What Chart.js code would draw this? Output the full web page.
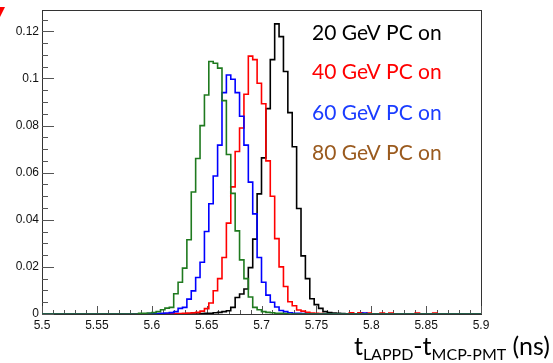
<!DOCTYPE html>
<html>
<head>
<meta charset="utf-8">
<script src="https://cdn.jsdelivr.net/npm/chart.js"></script>
<style>
  html, body { margin: 0; padding: 0; background: #fff; }
  #plot { display: block; }
</style>
</head>
<body>
<canvas id="plot" width="553" height="363"></canvas>
<script>
// Histogram binning: 100 bins of 4 ps between 5.5 and 5.9 ns
const binLow = 5.5;
const binWidth = 0.004;

// Normalised bin contents (bin 0 starts at 5.5 ns)
const pc20 = [
  0, 0, 0, 0, 0, 0, 0, 0, 0, 0,
  0, 0, 0, 0, 0, 0, 0, 0, 0, 0,
  0, 0, 0, 0, 0, 0, 0, 0, 0, 0,
  0, 0, 0, 0, 0, 0, 0.0002, 0.0003, 0.0003, 0.0005,
  0.0007, 0.001, 0.0014, 0.0028, 0.007, 0.0085, 0.0106, 0.0197, 0.0318, 0.051,
  0.0663, 0.0872, 0.108, 0.1232, 0.1178, 0.103, 0.0855, 0.071, 0.0448, 0.0247,
  0.015, 0.0065, 0.004, 0.0024, 0.001, 0.0006, 0.0004, 0.0003, 0.0002, 0,
  0, 0, 0.0004, 0, 0, 0, 0, 0, 0, 0,
  0, 0, 0, 0, 0, 0, 0, 0, 0, 0,
  0, 0, 0, 0, 0, 0, 0, 0, 0, 0
];
const pc40 = [
  0, 0, 0, 0, 0, 0, 0, 0, 0, 0,
  0, 0, 0, 0, 0, 0, 0, 0, 0, 0,
  0, 0, 0, 0, 0, 0, 0, 0, 0, 0,
  0.0002, 0.0002, 0.0003, 0.0004, 0.0005, 0.0007, 0.0012, 0.0023, 0.0047, 0.0099,
  0.015, 0.024, 0.0386, 0.054, 0.069, 0.079, 0.0933, 0.1095, 0.108, 0.098,
  0.0893, 0.065, 0.05, 0.032, 0.02, 0.0117, 0.0052, 0.0035, 0.0017, 0.0012,
  0.0007, 0.0004, 0.0003, 0.0002, 0, 0, 0, 0, 0, 0,
  0.0005, 0, 0.0005, 0, 0.0004, 0, 0, 0.0004, 0, 0.0004,
  0, 0, 0, 0, 0, 0.0004, 0, 0, 0, 0.0004,
  0, 0, 0, 0, 0, 0, 0, 0, 0, 0
];
const pc60 = [
  0, 0, 0, 0, 0, 0, 0, 0, 0, 0,
  0, 0, 0, 0, 0, 0, 0, 0, 0, 0,
  0, 0, 0, 0, 0.0002, 0.0003, 0.0002, 0.0003, 0.0004, 0.0006,
  0.001, 0.0024, 0.0028, 0.0063, 0.0098, 0.0155, 0.022, 0.035, 0.0468, 0.0586,
  0.0717, 0.094, 0.1015, 0.0997, 0.094, 0.084, 0.0717, 0.056, 0.0425, 0.024,
  0.0135, 0.008, 0.005, 0.003, 0.0015, 0.001, 0.0005, 0.0003, 0.0003, 0.0002,
  0, 0, 0, 0, 0, 0, 0, 0, 0, 0,
  0, 0, 0, 0.0004, 0, 0, 0, 0, 0, 0,
  0, 0, 0, 0, 0, 0, 0, 0, 0, 0,
  0, 0, 0, 0, 0, 0, 0, 0, 0, 0
];
const pc80 = [
  0, 0, 0, 0, 0, 0, 0, 0, 0, 0,
  0, 0, 0, 0, 0, 0, 0, 0, 0, 0,
  0, 0, 0.0003, 0.0003, 0.0004, 0.0006, 0.001, 0.0018, 0.0025, 0.0028,
  0.0086, 0.0135, 0.0195, 0.0315, 0.0518, 0.066, 0.08, 0.093, 0.1072, 0.1065,
  0.1044, 0.0906, 0.0677, 0.0512, 0.0353, 0.023, 0.015, 0.0072, 0.0028, 0.0018,
  0.001, 0.0007, 0.0005, 0.0003, 0.0003, 0.0002, 0, 0, 0, 0,
  0, 0, 0, 0, 0, 0, 0, 0, 0, 0,
  0, 0, 0, 0, 0, 0, 0, 0, 0, 0,
  0, 0, 0, 0, 0, 0, 0, 0, 0, 0,
  0, 0, 0, 0, 0, 0, 0, 0, 0, 0
];

const xTicks = [5.5, 5.55, 5.6, 5.65, 5.7, 5.75, 5.8, 5.85, 5.9];
const yTicks = [0, 0.02, 0.04, 0.06, 0.08, 0.1, 0.12];

const legendLabels = ['20 GeV PC on', '40 GeV PC on', '60 GeV PC on', '80 GeV PC on'];
const legendColors = ['#000000', '#ff0000', '#1a3cff', '#9a5a1e'];

// left bin edges + closing edge, drawn as step-before outline
function toSteps(counts) {
    const pts = counts.map((v, i) => ({ x: binLow + i * binWidth, y: v }));
    pts.push({ x: binLow + counts.length * binWidth, y: counts[counts.length - 1] });
    return pts;
}

function histo(counts, color) {
    return {
        data: toSteps(counts),
        borderColor: color,
        borderWidth: 1.6,
        stepped: 'before',
        pointRadius: 0,
        tension: 0,
        fill: false
    };
}

// ROOT style frame with ticks pointing inwards
const framePlugin = {
    id: 'frame',
    beforeDatasetsDraw(chart) {
        const { ctx, chartArea: a, scales } = chart;
        const xs = scales.x, ys = scales.y;
        ctx.save();
        ctx.strokeStyle = '#333';
        ctx.lineWidth = 1;
        ctx.strokeRect(Math.round(a.left) + 0.5, Math.round(a.top) + 0.5,
            Math.round(a.right - a.left), Math.round(a.bottom - a.top));

        ctx.strokeStyle = '#555';
        ctx.beginPath();
        for (let k = 0; k <= 40; k++) {
            const px = Math.round(xs.getPixelForValue(5.5 + k * 0.01)) + 0.5;
            const len = k % 5 === 0 ? 8 : 4;
            ctx.moveTo(px, a.bottom);
            ctx.lineTo(px, a.bottom - len);
        }
        for (let k = 0; k * 0.005 <= ys.max + 1e-9; k++) {
            const py = Math.round(ys.getPixelForValue(k * 0.005)) + 0.5;
            const len = k % 4 === 0 ? 12 : 6;
            ctx.moveTo(a.left, py);
            ctx.lineTo(a.left + len, py);
        }
        ctx.stroke();
        ctx.restore();
    },
    afterDraw(chart) {
        const { ctx } = chart;
        ctx.save();

        // legend text (no markers in the original)
        ctx.font = '21px Lato';
        ctx.textAlign = 'left';
        ctx.textBaseline = 'middle';
        const legendY = [33, 72, 113, 153];
        legendLabels.forEach((txt, i) => {
            ctx.fillStyle = legendColors[i];
            ctx.fillText(txt, 312, legendY[i]);
        });

        // x axis title with subscripts, right aligned at 550
        const parts = [
            { t: 't', f: '25px Lato', dy: 0 },
            { t: 'LAPPD', f: '16px Lato', dy: 5 },
            { t: '-t', f: '25px Lato', dy: 0 },
            { t: 'MCP-PMT', f: '16px Lato', dy: 5 },
            { t: ' (ns)', f: '25px Lato', dy: 0 }
        ];
        let total = 0;
        parts.forEach(p => { ctx.font = p.f; total += ctx.measureText(p.t).width; });
        let x = 550 - total;
        ctx.fillStyle = '#000';
        ctx.textBaseline = 'alphabetic';
        parts.forEach(p => {
            ctx.font = p.f;
            ctx.fillText(p.t, x, 355 + p.dy);
            x += ctx.measureText(p.t).width;
        });

        // clipped red marker at the top left corner
        ctx.fillStyle = '#ff0000';
        ctx.font = '14px DejaVu Sans';
        ctx.textAlign = 'right';
        ctx.textBaseline = 'middle';
        ctx.fillText('\u25BC', 5, 12);
        ctx.restore();
    }
};

new Chart(document.getElementById('plot'), {
    type: 'line',
    data: {
        // first dataset is drawn on top
        datasets: [
            histo(pc80, '#1f7a1f'),
            histo(pc60, '#0000ff'),
            histo(pc40, '#ff0000'),
            histo(pc20, '#000000')
        ]
    },
    options: {
        responsive: false,
        animation: false,
        events: [],
        layout: { padding: { top: 8, right: 72, left: 0, bottom: 0 } },
        plugins: { legend: { display: false }, tooltip: { enabled: false } },
        scales: {
            x: {
                type: 'linear',
                min: 5.5,
                max: 5.9,
                grid: { display: false, drawTicks: false },
                border: { display: false },
                afterBuildTicks: s => { s.ticks = xTicks.map(v => ({ value: v })); },
                afterFit: s => { s.height = 49; },
                ticks: {
                    padding: 4,
                    maxRotation: 0,
                    color: '#111',
                    font: { family: 'Liberation Sans', size: 12 },
                    callback: v => String(+v.toFixed(2))
                }
            },
            y: {
                min: 0,
                max: 0.129,
                grid: { display: false, drawTicks: false },
                border: { display: false },
                afterBuildTicks: s => { s.ticks = yTicks.map(v => ({ value: v })); },
                afterFit: s => { s.width = 42; },
                ticks: {
                    padding: 3,
                    color: '#111',
                    font: { family: 'Liberation Sans', size: 12 },
                    callback: v => String(+v.toFixed(2))
                }
            }
        }
    },
    plugins: [framePlugin]
});
</script>
</body>
</html>
